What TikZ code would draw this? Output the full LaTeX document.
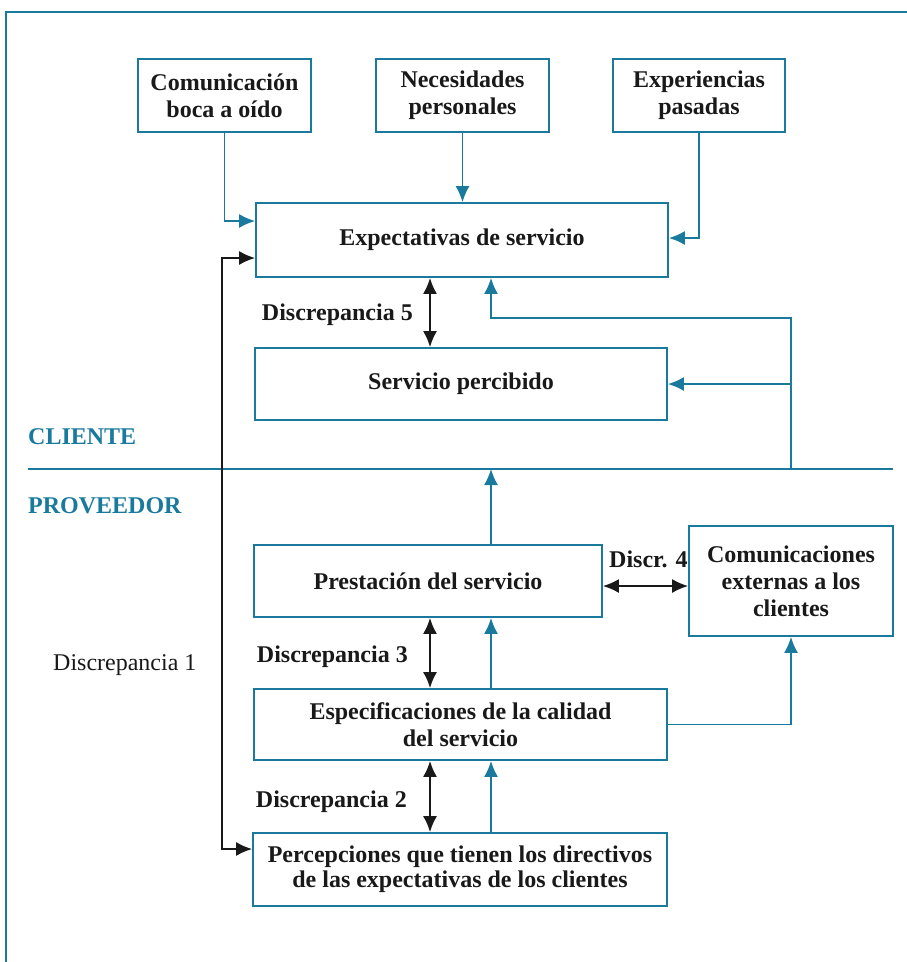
\documentclass[tikz,border=0pt]{standalone}
\usepackage{fontspec}
\setmainfont{Liberation Serif}
\usetikzlibrary{arrows.meta}
\definecolor{tealc}{RGB}{25,122,158}
\tikzset{
  box/.style={draw=tealc, line width=1.8pt, inner sep=0pt, align=center,
    font=\fontsize{24}{27}\selectfont\bfseries, text=black!90},
  lab/.style={inner sep=0pt, font=\fontsize{24}{27}\selectfont\bfseries, text=black!90},
  tipb/.tip={Latex[length=16pt,width=14pt]},
  barrow/.style={draw=tealc, line width=1.7pt, -tipb},
  darrow/.style={draw=black!90, line width=1.7pt, tipb-tipb},
  plain/.style={draw=tealc, line width=1.7pt}
}
\begin{document}
\begin{tikzpicture}[x=1pt,y=-1pt]
\useasboundingbox (0,0) rectangle (907,962);
% frame
\coordinate (fb) at (6,962);
\coordinate (ftl) at (6,12);
\coordinate (ftr) at (907,12);
\draw[plain, line width=1.8pt] (fb) -- (ftl) -- (ftr);

% boxes
\node[box, minimum width=173pt, minimum height=73pt] (com) at (224.5,95.5) {Comunicación\\boca a oído};
\node[box, minimum width=173pt, minimum height=73pt] (nec) at (462.5,95.5) {Necesidades\\personales};
\node[box, minimum width=172pt, minimum height=73pt] (exp) at (699,95.5) {Experiencias\\pasadas};
\node[box, minimum width=412pt, minimum height=74pt] (expect) at (462,240) {Expectativas de servicio};
\node[box, minimum width=412pt, minimum height=72pt] (serv) at (461,384) {Servicio percibido};
\node[box, minimum width=348pt, minimum height=72pt] (prest) at (428,581) {Prestación del servicio};
\node[box, minimum width=204pt, minimum height=110pt] (comext) at (791,581) {Comunicaciones\\externas a los\\clientes};
\node[box, minimum width=413pt, minimum height=71pt] (spec) at (460.5,724.5) {Especificaciones de la calidad\\del servicio};
\node[box, minimum width=414pt, minimum height=73pt, font=\fontsize{24}{25}\selectfont\bfseries] (perc) at (460,869.5) {Percepciones que tienen los directivos\\de las expectativas de los clientes};

% labels
\node[lab, anchor=base east] (l5) at (413,320) {Discrepancia 5};
\node[lab, anchor=base east] (l3) at (408,662) {Discrepancia 3};
\node[lab, anchor=base east] (l2) at (407,807) {Discrepancia 2};
\node[lab, anchor=base west] (l4) at (609,567) {Discr. 4};
\node[lab, anchor=base west, font=\fontsize{24}{27}\selectfont] (l1) at (53,670) {Discrepancia 1};
\node[lab, anchor=base west, text=tealc] (cli) at (28,444) {CLIENTE};
\node[lab, anchor=base west, text=tealc] (prov) at (28,513) {PROVEEDOR};

% helper coordinates
\coordinate (cD) at (430,0);
\coordinate (cB) at (491,0);
\coordinate (divL) at (28,469);
\coordinate (divR) at (893,469);
\coordinate (rt) at (791,469);
\coordinate (turn) at (791,318);
\coordinate (d1t) at (222,258);
\coordinate (d1b) at (222,849);

% divider
\draw[plain] (divL) -- (divR);

% top inputs
\draw[barrow] (com.south) |- ([yshift=19pt]expect.west);
\draw[barrow] (nec.south) -- (nec.south |- expect.north);
\draw[barrow] (exp.south) |- ([yshift=2pt]expect.east);

% discrepancy 5
\draw[darrow] (expect.south -| cD) -- (serv.north -| cD);

% feedback from provider side
\draw[barrow] (rt) -- (turn) -| (expect.south -| cB);
\draw[barrow] (rt |- serv.east) -- (serv.east);
\draw[barrow] (prest.north -| cB) -- (cB |- divL);

% discrepancy 4
\draw[darrow] ([yshift=-5pt]prest.east) -- ([yshift=-5pt]comext.west);

% discrepancy 3
\draw[darrow] (prest.south -| cD) -- (spec.north -| cD);
\draw[barrow] (spec.north -| cB) -- (prest.south -| cB);
\draw[barrow] (spec.east) -| (comext.south);

% discrepancy 2
\draw[darrow] (spec.south -| cD) -- (perc.north -| cD);
\draw[barrow] (perc.north -| cB) -- (spec.south -| cB);

% discrepancy 1
\draw[darrow] ([yshift=-18pt]expect.west) -- (d1t) -- (d1b) -- (perc.west |- d1b);
\end{tikzpicture}
\end{document}
